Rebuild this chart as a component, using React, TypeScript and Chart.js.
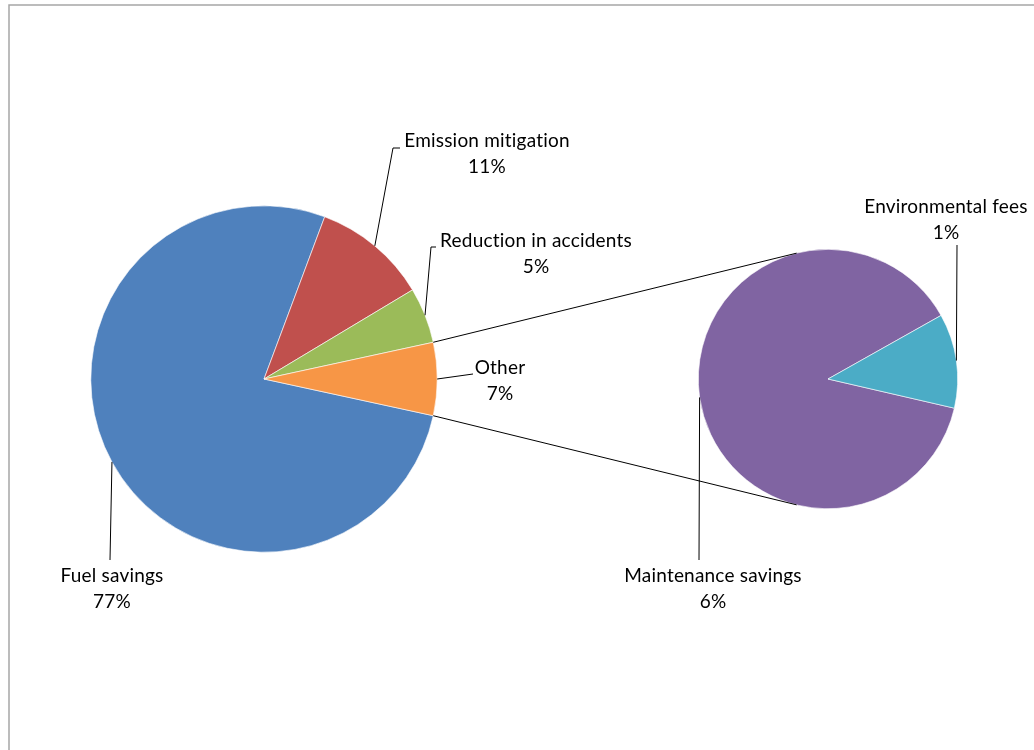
import React, { useEffect, useRef } from 'react';
import { Chart, registerables } from 'chart.js';

Chart.register(...registerables);

// ---- data ----
const mainLabels = ['Fuel savings', 'Emission mitigation', 'Reduction in accidents', 'Other'];
const mainValues = [77.3, 10.7, 5.2, 6.8];
const mainColors = ['#4F81BD', '#C0504D', '#9BBB59', '#F79646'];

const subLabels = ['Maintenance savings', 'Environmental fees'];
const subValues = [6.0, 0.8];
const subColors = ['#8064A2', '#4BACC6'];

const FONT = '19px Lato, "Open Sans", sans-serif';

// label layout (text centre of first line, leader elbow points) per slice
const mainLayout = [
  { tx: 112, ty: 576, via: [[110, 560]] },
  { tx: 487, ty: 141, via: [[393, 148], [400, 148]] },
  { tx: 536, ty: 241, via: [[431, 247], [436, 247]] },
  { tx: 500, ty: 368, via: [[473, 374]] },
];
const subLayout = [
  { tx: 713, ty: 576, via: [[699, 560]] },
  { tx: 946, ty: 207, via: [[957, 245]] },
];

const total = mainValues.reduce((a, b) => a + b, 0);
const pct = (v: number) => Math.round((v / total) * 100) + '%';

function drawCallouts(chart: any, labels: string[], values: number[], layout: any[]) {
  const ctx = chart.ctx;
  const meta = chart.getDatasetMeta(0);
  ctx.save();
  ctx.strokeStyle = '#000';
  ctx.lineWidth = 1;
  ctx.fillStyle = '#000';
  ctx.font = FONT;
  try {
    (ctx as any).letterSpacing = '0.2px';
  } catch (e) {}
  ctx.textAlign = 'center';
  ctx.textBaseline = 'middle';
  meta.data.forEach((arc: any, i: number) => {
    const L = layout[i];
    if (!L) return;
    const mid = (arc.startAngle + arc.endAngle) / 2;
    const x0 = arc.x + arc.outerRadius * Math.cos(mid);
    const y0 = arc.y + arc.outerRadius * Math.sin(mid);
    ctx.beginPath();
    ctx.moveTo(x0, y0);
    L.via.forEach((p: number[]) => ctx.lineTo(p[0], p[1]));
    ctx.stroke();
    ctx.fillText(labels[i], L.tx, L.ty);
    ctx.fillText(pct(values[i]), L.tx, L.ty + 26);
  });
  ctx.restore();
}

export default function App() {
  const c1 = useRef<HTMLCanvasElement>(null);
  const c2 = useRef<HTMLCanvasElement>(null);

  useEffect(() => {
    const otherIdx = mainLabels.indexOf('Other');
    const otherDeg = (mainValues[otherIdx] / total) * 360;

    const framePlugin = {
      id: 'frame',
      beforeDraw(chart: any) {
        const ctx = chart.ctx;
        ctx.save();
        ctx.fillStyle = '#fff';
        ctx.fillRect(0, 0, chart.width, chart.height);
        ctx.strokeStyle = '#a6a6a6';
        ctx.lineWidth = 1.5;
        ctx.beginPath();
        ctx.moveTo(9, chart.height + 5);
        ctx.lineTo(9, 5);
        ctx.lineTo(chart.width + 5, 5);
        ctx.stroke();
        ctx.restore();
      },
    };

    const mainCallouts = {
      id: 'mainCallouts',
      afterDraw(chart: any) {
        drawCallouts(chart, mainLabels, mainValues, mainLayout);
      },
    };

    const chart1 = new Chart(c1.current!, {
      type: 'pie',
      data: {
        labels: mainLabels,
        datasets: [
          {
            data: mainValues,
            backgroundColor: mainColors,
            borderColor: '#ffffff',
            borderWidth: 0.6,
          },
        ],
      },
      options: {
        responsive: false,
        animation: false,
        devicePixelRatio: 1,
        rotation: 90 + otherDeg / 2,
        layout: { padding: { left: 90.5, right: 596.5, top: 205.5, bottom: 197.5 } },
        plugins: { legend: { display: false }, tooltip: { enabled: false } },
      },
      plugins: [framePlugin, mainCallouts],
    });

    const subCallouts = {
      id: 'subCallouts',
      afterDraw(chart: any) {
        const ctx = chart.ctx;
        // connector lines from the "Other" slice to the secondary pie
        const o: any = chart1.getDatasetMeta(0).data[otherIdx];
        const s: any = chart.getDatasetMeta(0).data[0];
        const joinAngle = (104 * Math.PI) / 180;
        ctx.save();
        ctx.strokeStyle = '#000';
        ctx.lineWidth = 1;
        ctx.beginPath();
        ctx.moveTo(o.x + o.outerRadius * Math.cos(o.startAngle), o.y + o.outerRadius * Math.sin(o.startAngle));
        ctx.lineTo(s.x + s.outerRadius * Math.cos(-joinAngle), s.y + s.outerRadius * Math.sin(-joinAngle));
        ctx.moveTo(o.x + o.outerRadius * Math.cos(o.endAngle), o.y + o.outerRadius * Math.sin(o.endAngle));
        ctx.lineTo(s.x + s.outerRadius * Math.cos(joinAngle), s.y + s.outerRadius * Math.sin(joinAngle));
        ctx.stroke();
        ctx.restore();
        drawCallouts(chart, subLabels, subValues, subLayout);
      },
    };

    const chart2 = new Chart(c2.current!, {
      type: 'pie',
      data: {
        labels: subLabels,
        datasets: [
          {
            data: subValues,
            backgroundColor: subColors,
            borderColor: '#ffffff',
            borderWidth: 0.6,
          },
        ],
      },
      options: {
        responsive: false,
        animation: false,
        devicePixelRatio: 1,
        rotation: 103,
        layout: { padding: { left: 698, right: 76, top: 249, bottom: 241 } },
        plugins: { legend: { display: false }, tooltip: { enabled: false } },
      },
      plugins: [subCallouts],
    });

    return () => {
      chart2.destroy();
      chart1.destroy();
    };
  }, []);

  return (
    <div style={{ position: 'absolute', left: 0, top: 0, width: 1034, height: 750, overflow: 'hidden' }}>
      <canvas ref={c1} width={1034} height={750} style={{ position: 'absolute', left: 0, top: 0 }} />
      <canvas ref={c2} width={1034} height={750} style={{ position: 'absolute', left: 0, top: 0 }} />
    </div>
  );
}
